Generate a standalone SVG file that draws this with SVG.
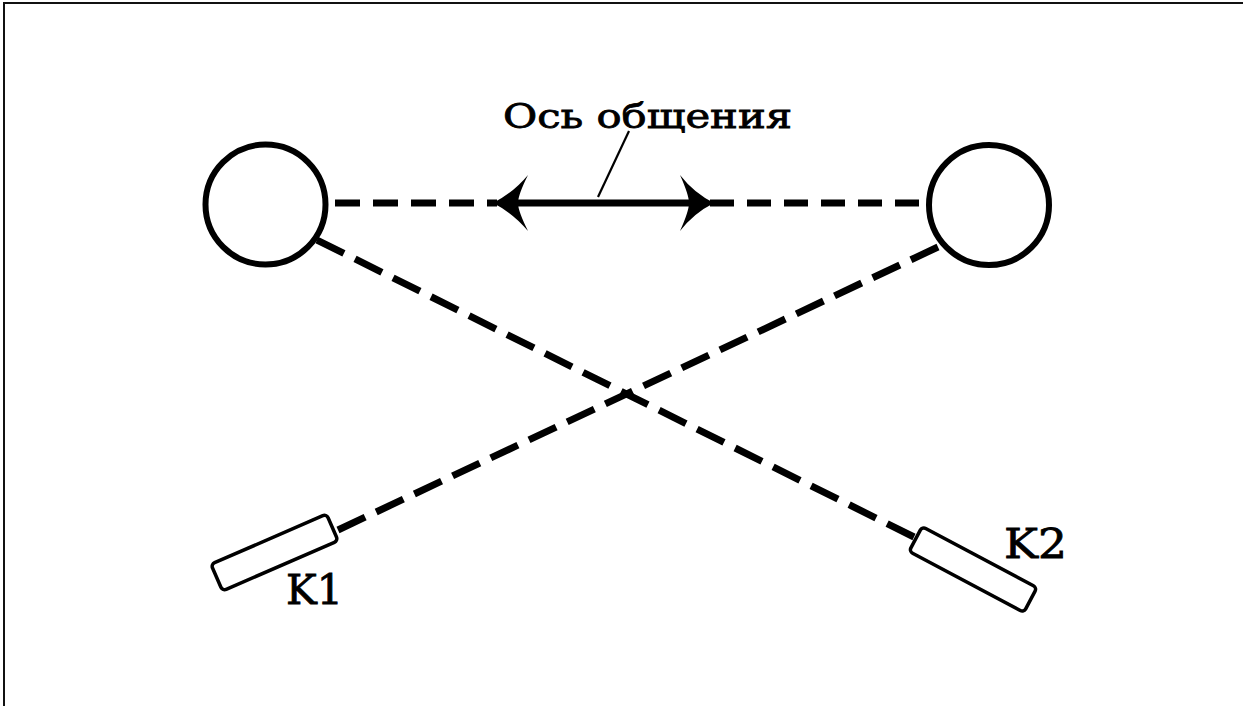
<svg xmlns="http://www.w3.org/2000/svg" width="1243" height="706" viewBox="0 0 1243 706">
<style>
.frame{stroke:#111;stroke-width:2;fill:none}
.node{fill:#fff;stroke:#000;stroke-width:6}
.box{fill:#fff;stroke:#000;stroke-width:3.5}
.dash{stroke:#000;stroke-width:7;fill:none}
.lbl{font-family:"DejaVu Serif","Liberation Serif",serif;fill:#000;stroke:#000;stroke-width:0.8}
</style>
<rect width="1243" height="706" fill="#fff"/>
<path class="frame" d="M4,706 V3 H1243"/>
<g id="connectors">
<line class="dash" x1="335" y1="203" x2="497" y2="203" stroke-dasharray="25 13"/>
<line class="dash" x1="710" y1="203" x2="921" y2="203" stroke-dasharray="24 13"/>
<line class="dash" x1="510" y1="203" x2="698" y2="203"/>
<path d="M493,203 Q513,193 528,175 Q518,195 518,203 Q518,211 528,231 Q513,213 493,203 Z" fill="#000"/>
<path d="M714,203 Q694,193 680,175 Q689,195 689,203 Q689,211 680,231 Q694,213 714,203 Z" fill="#000"/>
<line x1="598" y1="197" x2="629" y2="131" stroke="#000" stroke-width="2.2"/>
<line class="dash" x1="914" y1="537" x2="317" y2="240" stroke-dasharray="30 12.45"/>
<line class="dash" x1="338" y1="530" x2="938" y2="247" stroke-dasharray="30 12.23"/>
</g>
<g id="node-left"><circle class="node" cx="265.5" cy="204.5" r="60"/></g>
<g id="node-right"><circle class="node" cx="989" cy="205" r="60"/></g>
<g id="k1">
<rect class="box" x="-63" y="-14.5" width="126" height="29" rx="4" transform="translate(274.5,552.5) rotate(-23.5)"/>
<text class="lbl" x="286" y="604" font-size="41" textLength="57" lengthAdjust="spacingAndGlyphs">K1</text>
</g>
<g id="k2">
<rect class="box" x="-65" y="-14" width="130" height="28" rx="4" transform="translate(973,569.5) rotate(28)"/>
<text class="lbl" x="1004" y="558" font-size="41" textLength="63" lengthAdjust="spacingAndGlyphs">K2</text>
</g>
<g id="label">
<text class="lbl" x="503" y="128" font-size="34" textLength="289" lengthAdjust="spacingAndGlyphs">Ось общения</text>
</g>
</svg>
